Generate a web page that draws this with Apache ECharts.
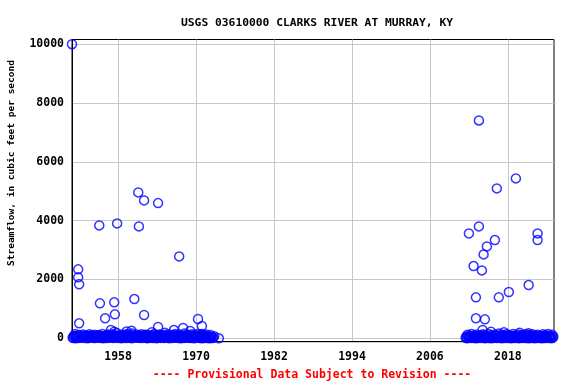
<!DOCTYPE html>
<html>
<head>
<meta charset="utf-8">
<script src="https://cdn.jsdelivr.net/npm/echarts@6/dist/echarts.min.js"></script>
<style>html,body{margin:0;padding:0;background:#fff}#c{width:576px;height:384px}</style>
</head>
<body>
<div id="c"></div>
<script>
var titleText = 'USGS 03610000 CLARKS RIVER AT MURRAY, KY';
var yAxisTitle = 'Streamflow, in cubic feet per second';
var footText = '---- Provisional Data Subject to Revision ----';
var xTicks = [1958, 1970, 1982, 1994, 2006, 2018];
var yTicks = [0, 2000, 4000, 6000, 8000, 10000];

// dense low-flow measurements, 1951-1973
var lowYears1 = [
1951.0,1951.2,1951.4,1951.6,1951.8,1952.0,1952.2,1952.4,1952.6,1952.8,
1953.0,1953.2,1953.4,1953.6,1953.8,1954.0,1954.2,1954.4,1954.6,1954.8,
1955.0,1955.2,1955.4,1955.6,1955.8,1956.0,1956.2,1956.4,1956.6,1956.8,
1957.0,1957.2,1957.4,1957.6,1957.8,1958.0,1958.2,1958.4,1958.6,1958.8,
1959.0,1959.2,1959.4,1959.6,1959.8,1960.0,1960.2,1960.4,1960.6,1960.8,
1961.0,1961.2,1961.4,1961.6,1961.8,1962.0,1962.2,1962.4,1962.6,1962.8,
1963.0,1963.2,1963.4,1963.6,1963.8,1964.0,1964.2,1964.4,1964.6,1964.8,
1965.0,1965.2,1965.4,1965.6,1965.8,1966.0,1966.2,1966.4,1966.6,1966.8,
1967.0,1967.2,1967.4,1967.6,1967.8,1968.0,1968.2,1968.4,1968.6,1968.8,
1969.0,1969.2,1969.4,1969.6,1969.8,1970.0,1970.2,1970.4,1970.6,1970.8,
1971.0,1971.2,1971.4,1971.6,1971.8,1972.0,1972.2,1972.4,1972.6,1972.8
];
var lowFlows1 = [
30,90,150,60,20,110,70,40,130,80,
50,100,25,140,60,90,15,120,70,45,
110,35,80,150,55,20,95,130,40,75,
60,140,25,100,180,50,85,30,120,65,
40,110,150,70,20,95,160,45,80,130,
55,25,100,140,60,35,90,120,50,75,
30,110,65,150,40,85,20,130,70,100,
45,120,80,25,140,60,95,35,110,150,
70,40,130,85,20,100,160,55,90,125,
60,30,140,75,110,45,150,85,25,120,
65,95,40,130,80,20,110,55,35,70
];
var lowYears1b = [
1951.1,1951.3,1951.5,1951.7,1951.9,1952.1,1952.3,1952.5,1952.7,1952.9,
1953.1,1953.3,1953.5,1953.7,1953.9,1954.1,1954.3,1954.5,1954.7,1954.9,
1955.1,1955.3,1955.5,1955.7,1955.9,1956.1,1956.3,1956.5,1956.7,1956.9,
1957.1,1957.3,1957.5,1957.7,1957.9,1958.1,1958.3,1958.5,1958.7,1958.9,
1959.1,1959.3,1959.5,1959.7,1959.9,1960.1,1960.3,1960.5,1960.7,1960.9,
1961.1,1961.3,1961.5,1961.7,1961.9,1962.1,1962.3,1962.5,1962.7,1962.9,
1963.1,1963.3,1963.5,1963.7,1963.9,1964.1,1964.3,1964.5,1964.7,1964.9,
1965.1,1965.3,1965.5,1965.7,1965.9,1966.1,1966.3,1966.5,1966.7,1966.9,
1967.1,1967.3,1967.5,1967.7,1967.9,1968.1,1968.3,1968.5,1968.7,1968.9,
1969.1,1969.3,1969.5,1969.7,1969.9,1970.1,1970.3,1970.5,1970.7,1970.9,
1971.1,1971.3,1971.5,1971.7,1971.9,1972.1,1972.3
];
var lowFlows1b = [
10,60,5,100,40,15,55,90,10,35,
80,5,60,20,105,40,70,10,45,95,
15,65,30,5,90,45,10,60,115,20,
95,10,50,70,15,40,100,5,55,25,
85,10,45,30,110,5,60,90,20,40,
100,15,50,10,80,120,20,5,70,30,
90,10,40,60,5,50,110,15,35,70,
10,55,25,95,5,45,75,15,60,20,
100,10,50,5,80,35,15,110,20,40,
10,85,30,5,55,20,90,15,60,5,
35,10,60,15,45,5,25
];
// dense low-flow measurements, 2011-2025
var lowYears2 = [
2011.6,2011.8,2012.0,2012.2,2012.4,2012.6,2012.8,2013.0,2013.2,2013.4,
2013.6,2013.8,2014.0,2014.2,2014.4,2014.6,2014.8,2015.0,2015.2,2015.4,
2015.6,2015.8,2016.0,2016.2,2016.4,2016.6,2016.8,2017.0,2017.2,2017.4,
2017.6,2017.8,2018.0,2018.2,2018.4,2018.6,2018.8,2019.0,2019.2,2019.4,
2019.6,2019.8,2020.0,2020.2,2020.4,2020.6,2020.8,2021.0,2021.2,2021.4,
2021.6,2021.8,2022.0,2022.2,2022.4,2022.6,2022.8,2023.0,2023.2,2023.4,
2023.6,2023.8,2024.0,2024.2,2024.4,2024.6,2024.8,2025.0
];
var lowFlows2 = [
60,120,30,90,150,45,100,20,130,70,
40,110,80,140,25,95,60,150,35,115,
75,20,130,55,100,160,45,85,120,30,
90,140,50,110,25,75,150,60,100,35,
130,80,45,120,20,95,150,65,110,40,
85,140,30,100,60,125,50,90,20,135,
70,110,40,150,80,25,120,60
];
var lowYears2b = [
2011.5,2011.7,2011.9,2012.1,2012.3,2012.5,2012.7,2012.9,2013.1,2013.3,
2013.5,2013.7,2013.9,2014.1,2014.3,2014.5,2014.7,2014.9,2015.1,2015.3,
2015.5,2015.7,2015.9,2016.1,2016.3,2016.5,2016.7,2016.9,2017.1,2017.3,
2017.5,2017.7,2017.9,2018.1,2018.3,2018.5,2018.7,2018.9,2019.1,2019.3,
2019.5,2019.7,2019.9,2020.1,2020.3,2020.5,2020.7,2020.9,2021.1,2021.3,
2021.5,2021.7,2021.9,2022.1,2022.3,2022.5,2022.7,2022.9,2023.1,2023.3,
2023.5,2023.7,2023.9,2024.1,2024.3,2024.5,2024.7,2024.9
];
var lowFlows2b = [
20,5,60,15,45,10,80,35,5,50,
15,70,10,40,90,5,30,60,10,45,
5,55,20,85,10,40,15,65,5,50,
25,10,75,15,45,5,30,90,10,60,
20,5,70,35,10,55,15,40,5,80,
10,45,20,5,65,15,35,10,70,5,
40,15,60,10,30,55,5,20
];
// higher measurements
var highYears = [
1950.9,1951.85,1951.85,1952.0,1952.0,1955.1,1957.85,1955.2,1957.4,1956.0,
1957.5,1956.9,1957.4,1961.1,1962.0,1964.15,1961.2,1960.5,1962.0,1960.06,
1964.15,1967.4,1965.2,1968.0,1969.1,1970.3,1970.9,1970.9,1973.5,1972.6,
1966.6,1959.3,1963.2,
2013.54,2019.23,2016.3,2013.54,2012.0,2016.0,2014.77,2014.26,2012.72,2014.0,
2022.57,2022.57,2021.2,2018.15,2013.08,2016.6,2013.08,2014.46,2014.1,2015.4,
2017.4,2021.2,2019.8
];
var highFlows = [
10000,2345,2073,1835,510,3840,3907,1189,1223,680,
815,282,225,4961,4689,4597,3806,1335,792,260,
384,2786,190,350,248,656,418,146,0,10,
280,230,210,
7407,5437,5097,3806,3568,3340,3126,2854,2457,2310,
3568,3340,1811,1573,1393,1393,680,645,282,225,
204,170,190
];

function pairs(xs, ys) {
  var out = [];
  for (var i = 0; i < xs.length; i++) out.push([xs[i], ys[i]]);
  return out;
}
var allData = pairs(lowYears1, lowFlows1)
  .concat(pairs(lowYears1b, lowFlows1b))
  .concat(pairs(lowYears2, lowFlows2))
  .concat(pairs(lowYears2b, lowFlows2b))
  .concat(pairs(highYears, highFlows));

var mono = 'DejaVu Sans Mono';
var chart = echarts.init(document.getElementById('c'), null, {renderer: 'canvas'});
chart.setOption({
  animation: false,
  backgroundColor: '#fff',
  title: {
    text: titleText,
    left: 312, top: 13, textAlign: 'center',
    textStyle: {fontFamily: mono, fontWeight: 'bold', fontSize: 11.3, color: '#000'}
  },
  graphic: [
    {type: 'text', x: 12, y: 163, rotation: Math.PI / 2,
     style: {text: yAxisTitle, fontFamily: mono, fontWeight: 'bold', fontSize: 9.5,
             fill: '#000', align: 'center', verticalAlign: 'middle'}},
    {type: 'text', x: 312, y: 375,
     style: {text: footText, fontFamily: mono, fontWeight: 'bold', fontSize: 11.5,
             fill: '#ff0000', align: 'center', verticalAlign: 'middle'}}
  ],
  grid: {left: 72, right: 22, top: 39.5, bottom: 42.3, show: true,
         borderColor: '#000', borderWidth: 1, backgroundColor: 'transparent'},
  xAxis: {
    type: 'value', min: 1950.9, max: 2025.1,
    axisLine: {show: true, onZero: false, lineStyle: {color: '#000'}},
    axisTick: {show: false, customValues: xTicks},
    axisLabel: {customValues: xTicks, margin: 9, color: '#000',
                fontFamily: mono, fontWeight: 'bold', fontSize: 11.5,
                formatter: function (v) { return String(v); }},
    splitLine: {show: true, customValues: xTicks, lineStyle: {color: '#c8c8c8', width: 1}}
  },
  yAxis: {
    type: 'value', min: -115, max: 10160,
    axisLine: {show: true, onZero: false, lineStyle: {color: '#000'}},
    axisTick: {show: false, customValues: yTicks},
    axisLabel: {customValues: yTicks, margin: 8, color: '#000',
                fontFamily: mono, fontWeight: 'bold', fontSize: 11.5,
                formatter: function (v) { return String(v); }},
    splitLine: {show: true, customValues: yTicks, lineStyle: {color: '#c8c8c8', width: 1}}
  },
  series: [{
    type: 'scatter',
    data: allData,
    symbol: 'circle',
    symbolSize: 9,
    clip: false,
    itemStyle: {color: 'rgba(0,0,0,0)', borderColor: '#0000ff', borderWidth: 1.5}
  }]
});
</script>
</body>
</html>
